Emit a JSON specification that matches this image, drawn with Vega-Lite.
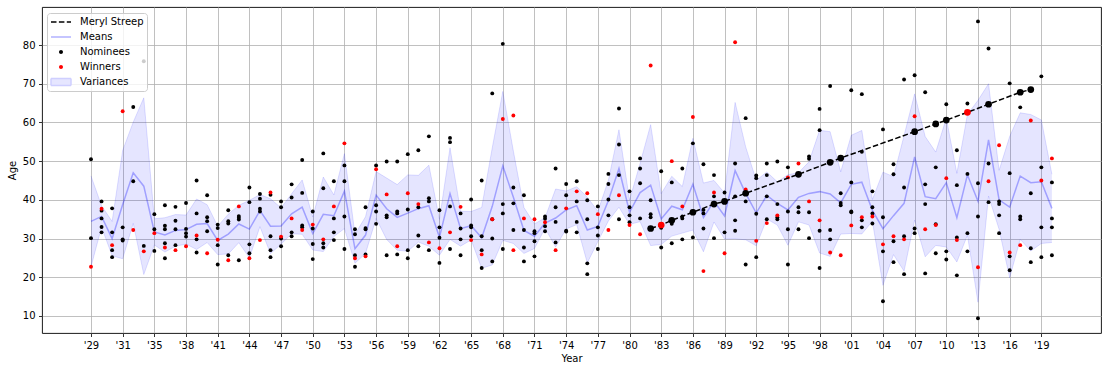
{
"$schema": "https://vega.github.io/schema/vega-lite/v6.json",
"width": 1059, "height": 326,
"autosize": {"type": "none"},
"padding": {"left": 42, "top": 7, "right": 7, "bottom": 38},
"background": "white",
"config": {
 "font": "DejaVu Sans",
 "view": {"stroke": "black", "strokeWidth": 0.9},
 "axis": {"labelFont": "DejaVu Sans", "labelFontSize": 10, "labelColor": "black", "titleFont": "DejaVu Sans", "titleFontSize": 10, "titleFontWeight": "normal", "titleColor": "black", "tickColor": "black", "tickSize": 3.5, "tickWidth": 0.8, "labelPadding": 3.5, "domain": false, "gridColor": "#b0b0b0", "gridWidth": 0.8, "gridOpacity": 1, "labelOverlap": false, "labelFlush": false},
 "legend": {"orient": "none", "legendX": 5, "legendY": 6, "symbolSize": 400, "clipHeight": 12, "rowPadding": 3, "padding": 3, "labelOffset": 8, "labelFont": "DejaVu Sans", "labelFontSize": 10, "labelColor": "black", "fillColor": "rgba(255,255,255,0.8)", "strokeColor": "#cccccc", "cornerRadius": 3, "zindex": 1, "symbolOpacity": 1, "symbolStrokeWidth": 1.5}
},
"data": {"values": [
{"idx":0,"age":50.5,"type":"Nominees"},{"idx":0,"age":30.1,"type":"Nominees"},{"idx":0,"age":22.7,"type":"Winners"},
{"idx":1,"age":39.6,"type":"Nominees"},{"idx":1,"age":37.2,"type":"Nominees"},{"idx":1,"age":35.2,"type":"Nominees"},{"idx":1,"age":33.0,"type":"Nominees"},{"idx":1,"age":31.6,"type":"Nominees"},{"idx":1,"age":37.7,"type":"Winners"},
{"idx":2,"age":37.8,"type":"Nominees"},{"idx":2,"age":31.6,"type":"Nominees"},{"idx":2,"age":27.0,"type":"Nominees"},{"idx":2,"age":25.2,"type":"Nominees"},{"idx":2,"age":28.3,"type":"Winners"},
{"idx":3,"age":32.9,"type":"Nominees"},{"idx":3,"age":29.8,"type":"Nominees"},{"idx":3,"age":29.5,"type":"Nominees"},{"idx":3,"age":62.9,"type":"Winners"},
{"idx":4,"age":64.0,"type":"Nominees"},{"idx":4,"age":44.8,"type":"Nominees"},{"idx":4,"age":32.2,"type":"Winners"},
{"idx":5,"age":75.8,"type":"Nominees"},{"idx":5,"age":28.1,"type":"Nominees"},{"idx":5,"age":26.7,"type":"Winners"},
{"idx":6,"age":36.3,"type":"Nominees"},{"idx":6,"age":32.4,"type":"Nominees"},{"idx":6,"age":26.8,"type":"Nominees"},{"idx":6,"age":31.4,"type":"Winners"},
{"idx":7,"age":38.6,"type":"Nominees"},{"idx":7,"age":33.3,"type":"Nominees"},{"idx":7,"age":32.4,"type":"Nominees"},{"idx":7,"age":28.8,"type":"Nominees"},{"idx":7,"age":24.9,"type":"Nominees"},{"idx":7,"age":27.7,"type":"Winners"},
{"idx":8,"age":38.2,"type":"Nominees"},{"idx":8,"age":34.6,"type":"Nominees"},{"idx":8,"age":32.4,"type":"Nominees"},{"idx":8,"age":28.3,"type":"Nominees"},{"idx":8,"age":27.0,"type":"Winners"},
{"idx":9,"age":39.2,"type":"Nominees"},{"idx":9,"age":32.5,"type":"Nominees"},{"idx":9,"age":31.4,"type":"Nominees"},{"idx":9,"age":30.5,"type":"Nominees"},{"idx":9,"age":28.0,"type":"Winners"},
{"idx":10,"age":45.0,"type":"Nominees"},{"idx":10,"age":36.5,"type":"Nominees"},{"idx":10,"age":29.8,"type":"Nominees"},{"idx":10,"age":26.4,"type":"Nominees"},{"idx":10,"age":30.8,"type":"Winners"},
{"idx":11,"age":41.2,"type":"Nominees"},{"idx":11,"age":35.5,"type":"Nominees"},{"idx":11,"age":34.5,"type":"Nominees"},{"idx":11,"age":31.9,"type":"Nominees"},{"idx":11,"age":26.2,"type":"Winners"},
{"idx":12,"age":33.6,"type":"Nominees"},{"idx":12,"age":32.7,"type":"Nominees"},{"idx":12,"age":28.3,"type":"Nominees"},{"idx":12,"age":23.3,"type":"Nominees"},{"idx":12,"age":29.7,"type":"Winners"},
{"idx":13,"age":37.3,"type":"Nominees"},{"idx":13,"age":34.5,"type":"Nominees"},{"idx":13,"age":33.9,"type":"Nominees"},{"idx":13,"age":25.7,"type":"Nominees"},{"idx":13,"age":24.4,"type":"Winners"},
{"idx":14,"age":35.8,"type":"Nominees"},{"idx":14,"age":35.4,"type":"Nominees"},{"idx":14,"age":34.9,"type":"Nominees"},{"idx":14,"age":24.4,"type":"Nominees"},{"idx":14,"age":38.3,"type":"Winners"},
{"idx":15,"age":43.2,"type":"Nominees"},{"idx":15,"age":39.4,"type":"Nominees"},{"idx":15,"age":28.5,"type":"Nominees"},{"idx":15,"age":26.2,"type":"Nominees"},{"idx":15,"age":24.9,"type":"Winners"},
{"idx":16,"age":41.5,"type":"Nominees"},{"idx":16,"age":40.3,"type":"Nominees"},{"idx":16,"age":37.7,"type":"Nominees"},{"idx":16,"age":37.0,"type":"Nominees"},{"idx":16,"age":29.6,"type":"Winners"},
{"idx":17,"age":41.3,"type":"Nominees"},{"idx":17,"age":30.6,"type":"Nominees"},{"idx":17,"age":27.0,"type":"Nominees"},{"idx":17,"age":25.2,"type":"Nominees"},{"idx":17,"age":41.9,"type":"Winners"},
{"idx":18,"age":39.6,"type":"Nominees"},{"idx":18,"age":38.1,"type":"Nominees"},{"idx":18,"age":30.0,"type":"Nominees"},{"idx":18,"age":28.0,"type":"Nominees"},{"idx":18,"age":30.5,"type":"Winners"},
{"idx":19,"age":44.0,"type":"Nominees"},{"idx":19,"age":40.6,"type":"Nominees"},{"idx":19,"age":31.6,"type":"Nominees"},{"idx":19,"age":30.6,"type":"Nominees"},{"idx":19,"age":35.2,"type":"Winners"},
{"idx":20,"age":50.3,"type":"Nominees"},{"idx":20,"age":41.8,"type":"Nominees"},{"idx":20,"age":33.4,"type":"Nominees"},{"idx":20,"age":32.9,"type":"Nominees"},{"idx":20,"age":32.2,"type":"Winners"},
{"idx":21,"age":37.0,"type":"Nominees"},{"idx":21,"age":32.6,"type":"Nominees"},{"idx":21,"age":28.6,"type":"Nominees"},{"idx":21,"age":24.7,"type":"Nominees"},{"idx":21,"age":33.6,"type":"Winners"},
{"idx":22,"age":52.0,"type":"Nominees"},{"idx":22,"age":43.0,"type":"Nominees"},{"idx":22,"age":28.8,"type":"Nominees"},{"idx":22,"age":27.7,"type":"Nominees"},{"idx":22,"age":29.8,"type":"Winners"},
{"idx":23,"age":44.8,"type":"Nominees"},{"idx":23,"age":35.2,"type":"Nominees"},{"idx":23,"age":31.6,"type":"Nominees"},{"idx":23,"age":29.6,"type":"Nominees"},{"idx":23,"age":38.3,"type":"Winners"},
{"idx":24,"age":48.9,"type":"Nominees"},{"idx":24,"age":44.8,"type":"Nominees"},{"idx":24,"age":35.7,"type":"Nominees"},{"idx":24,"age":27.3,"type":"Nominees"},{"idx":24,"age":54.6,"type":"Winners"},
{"idx":25,"age":32.4,"type":"Nominees"},{"idx":25,"age":31.1,"type":"Nominees"},{"idx":25,"age":25.7,"type":"Nominees"},{"idx":25,"age":22.7,"type":"Nominees"},{"idx":25,"age":24.9,"type":"Winners"},
{"idx":26,"age":38.1,"type":"Nominees"},{"idx":26,"age":32.7,"type":"Nominees"},{"idx":26,"age":32.4,"type":"Nominees"},{"idx":26,"age":25.9,"type":"Nominees"},{"idx":26,"age":25.4,"type":"Winners"},
{"idx":27,"age":48.9,"type":"Nominees"},{"idx":27,"age":38.6,"type":"Nominees"},{"idx":27,"age":37.0,"type":"Nominees"},{"idx":27,"age":33.8,"type":"Nominees"},{"idx":27,"age":47.9,"type":"Winners"},
{"idx":28,"age":49.9,"type":"Nominees"},{"idx":28,"age":36.0,"type":"Nominees"},{"idx":28,"age":35.5,"type":"Nominees"},{"idx":28,"age":25.7,"type":"Nominees"},{"idx":28,"age":41.4,"type":"Winners"},
{"idx":29,"age":49.9,"type":"Nominees"},{"idx":29,"age":37.0,"type":"Nominees"},{"idx":29,"age":36.5,"type":"Nominees"},{"idx":29,"age":25.9,"type":"Nominees"},{"idx":29,"age":28.0,"type":"Winners"},
{"idx":30,"age":51.8,"type":"Nominees"},{"idx":30,"age":37.5,"type":"Nominees"},{"idx":30,"age":27.0,"type":"Nominees"},{"idx":30,"age":24.9,"type":"Nominees"},{"idx":30,"age":41.7,"type":"Winners"},
{"idx":31,"age":52.8,"type":"Nominees"},{"idx":31,"age":38.1,"type":"Nominees"},{"idx":31,"age":30.8,"type":"Nominees"},{"idx":31,"age":28.0,"type":"Nominees"},{"idx":31,"age":38.9,"type":"Winners"},
{"idx":32,"age":56.4,"type":"Nominees"},{"idx":32,"age":40.4,"type":"Nominees"},{"idx":32,"age":39.6,"type":"Nominees"},{"idx":32,"age":27.0,"type":"Nominees"},{"idx":32,"age":29.0,"type":"Winners"},
{"idx":33,"age":37.3,"type":"Nominees"},{"idx":33,"age":32.9,"type":"Nominees"},{"idx":33,"age":30.2,"type":"Nominees"},{"idx":33,"age":23.7,"type":"Nominees"},{"idx":33,"age":27.5,"type":"Winners"},
{"idx":34,"age":56.0,"type":"Nominees"},{"idx":34,"age":54.9,"type":"Nominees"},{"idx":34,"age":38.3,"type":"Nominees"},{"idx":34,"age":27.3,"type":"Nominees"},{"idx":34,"age":31.6,"type":"Winners"},
{"idx":35,"age":36.5,"type":"Nominees"},{"idx":35,"age":32.6,"type":"Nominees"},{"idx":35,"age":29.8,"type":"Nominees"},{"idx":35,"age":25.7,"type":"Nominees"},{"idx":35,"age":38.2,"type":"Winners"},
{"idx":36,"age":40.1,"type":"Nominees"},{"idx":36,"age":33.4,"type":"Nominees"},{"idx":36,"age":32.9,"type":"Nominees"},{"idx":36,"age":30.6,"type":"Nominees"},{"idx":36,"age":29.6,"type":"Winners"},
{"idx":37,"age":45.0,"type":"Nominees"},{"idx":37,"age":30.6,"type":"Nominees"},{"idx":37,"age":27.0,"type":"Nominees"},{"idx":37,"age":22.4,"type":"Nominees"},{"idx":37,"age":25.9,"type":"Winners"},
{"idx":38,"age":67.5,"type":"Nominees"},{"idx":38,"age":35.0,"type":"Nominees"},{"idx":38,"age":30.0,"type":"Nominees"},{"idx":38,"age":24.1,"type":"Nominees"},{"idx":38,"age":35.0,"type":"Winners"},
{"idx":39,"age":80.3,"type":"Nominees"},{"idx":39,"age":38.9,"type":"Nominees"},{"idx":39,"age":36.5,"type":"Nominees"},{"idx":39,"age":27.3,"type":"Nominees"},{"idx":39,"age":60.9,"type":"Winners"},
{"idx":40,"age":43.2,"type":"Nominees"},{"idx":40,"age":39.1,"type":"Nominees"},{"idx":40,"age":32.2,"type":"Nominees"},{"idx":40,"age":61.8,"type":"Winners"},{"idx":40,"age":27.0,"type":"Winners"},
{"idx":41,"age":41.2,"type":"Nominees"},{"idx":41,"age":32.2,"type":"Nominees"},{"idx":41,"age":27.7,"type":"Nominees"},{"idx":41,"age":24.1,"type":"Nominees"},{"idx":41,"age":35.2,"type":"Winners"},
{"idx":42,"age":31.9,"type":"Nominees"},{"idx":42,"age":31.4,"type":"Nominees"},{"idx":42,"age":29.3,"type":"Nominees"},{"idx":42,"age":25.4,"type":"Nominees"},{"idx":42,"age":35.0,"type":"Winners"},
{"idx":43,"age":35.7,"type":"Nominees"},{"idx":43,"age":35.1,"type":"Nominees"},{"idx":43,"age":33.2,"type":"Nominees"},{"idx":43,"age":31.9,"type":"Nominees"},{"idx":43,"age":34.2,"type":"Winners"},
{"idx":44,"age":48.1,"type":"Nominees"},{"idx":44,"age":38.1,"type":"Nominees"},{"idx":44,"age":34.3,"type":"Nominees"},{"idx":44,"age":29.0,"type":"Nominees"},{"idx":44,"age":27.0,"type":"Winners"},
{"idx":45,"age":44.1,"type":"Nominees"},{"idx":45,"age":41.2,"type":"Nominees"},{"idx":45,"age":32.0,"type":"Nominees"},{"idx":45,"age":31.8,"type":"Nominees"},{"idx":45,"age":37.8,"type":"Winners"},
{"idx":46,"age":44.8,"type":"Nominees"},{"idx":46,"age":39.6,"type":"Nominees"},{"idx":46,"age":34.3,"type":"Nominees"},{"idx":46,"age":31.6,"type":"Nominees"},{"idx":46,"age":42.2,"type":"Winners"},
{"idx":47,"age":39.9,"type":"Nominees"},{"idx":47,"age":35.0,"type":"Nominees"},{"idx":47,"age":23.6,"type":"Nominees"},{"idx":47,"age":20.8,"type":"Nominees"},{"idx":47,"age":41.7,"type":"Winners"},
{"idx":48,"age":38.3,"type":"Nominees"},{"idx":48,"age":32.9,"type":"Nominees"},{"idx":48,"age":30.8,"type":"Nominees"},{"idx":48,"age":27.3,"type":"Nominees"},{"idx":48,"age":36.3,"type":"Winners"},
{"idx":49,"age":46.7,"type":"Nominees"},{"idx":49,"age":44.1,"type":"Nominees"},{"idx":49,"age":40.1,"type":"Nominees"},{"idx":49,"age":36.0,"type":"Nominees"},{"idx":49,"age":32.2,"type":"Winners"},
{"idx":50,"age":63.6,"type":"Nominees"},{"idx":50,"age":54.3,"type":"Nominees"},{"idx":50,"age":46.4,"type":"Nominees"},{"idx":50,"age":35.0,"type":"Nominees"},{"idx":50,"age":41.2,"type":"Winners"},
{"idx":51,"age":42.2,"type":"Nominees"},{"idx":51,"age":38.1,"type":"Nominees"},{"idx":51,"age":36.0,"type":"Nominees"},{"idx":51,"age":34.2,"type":"Nominees"},{"idx":51,"age":33.5,"type":"Winners"},
{"idx":52,"age":50.7,"type":"Nominees"},{"idx":52,"age":48.1,"type":"Nominees"},{"idx":52,"age":44.3,"type":"Nominees"},{"idx":52,"age":35.2,"type":"Nominees"},{"idx":52,"age":31.1,"type":"Winners"},
{"idx":53,"age":39.9,"type":"Nominees"},{"idx":53,"age":36.3,"type":"Nominees"},{"idx":53,"age":35.5,"type":"Nominees"},{"idx":53,"age":32.6,"type":"Nominees","meryl":true},{"idx":53,"age":74.7,"type":"Winners"},
{"idx":54,"age":47.4,"type":"Nominees"},{"idx":54,"age":33.8,"type":"Nominees"},{"idx":54,"age":32.8,"type":"Nominees"},{"idx":54,"age":27.7,"type":"Nominees"},{"idx":54,"age":33.5,"type":"Winners","meryl":true},
{"idx":55,"age":44.5,"type":"Nominees"},{"idx":55,"age":33.8,"type":"Nominees"},{"idx":55,"age":28.8,"type":"Nominees"},{"idx":55,"age":34.7,"type":"Nominees","meryl":true},{"idx":55,"age":50.0,"type":"Winners"},
{"idx":56,"age":48.1,"type":"Nominees"},{"idx":56,"age":35.7,"type":"Nominees"},{"idx":56,"age":35.2,"type":"Nominees"},{"idx":56,"age":29.8,"type":"Nominees"},{"idx":56,"age":38.3,"type":"Winners"},
{"idx":57,"age":54.6,"type":"Nominees"},{"idx":57,"age":37.1,"type":"Nominees"},{"idx":57,"age":30.3,"type":"Nominees"},{"idx":57,"age":36.8,"type":"Nominees","meryl":true},{"idx":57,"age":61.4,"type":"Winners"},
{"idx":58,"age":49.2,"type":"Nominees"},{"idx":58,"age":37.4,"type":"Nominees"},{"idx":58,"age":36.5,"type":"Nominees"},{"idx":58,"age":32.6,"type":"Nominees"},{"idx":58,"age":21.6,"type":"Winners"},
{"idx":59,"age":46.4,"type":"Nominees"},{"idx":59,"age":40.9,"type":"Nominees"},{"idx":59,"age":30.1,"type":"Nominees"},{"idx":59,"age":38.9,"type":"Nominees","meryl":true},{"idx":59,"age":41.9,"type":"Winners"},
{"idx":60,"age":41.9,"type":"Nominees"},{"idx":60,"age":39.8,"type":"Nominees"},{"idx":60,"age":31.6,"type":"Nominees"},{"idx":60,"age":39.6,"type":"Nominees","meryl":true},{"idx":60,"age":26.2,"type":"Winners"},
{"idx":61,"age":49.4,"type":"Nominees"},{"idx":61,"age":40.9,"type":"Nominees"},{"idx":61,"age":34.7,"type":"Nominees"},{"idx":61,"age":32.0,"type":"Nominees"},{"idx":61,"age":80.7,"type":"Winners"},
{"idx":62,"age":61.1,"type":"Nominees"},{"idx":62,"age":39.6,"type":"Nominees"},{"idx":62,"age":23.3,"type":"Nominees"},{"idx":62,"age":41.7,"type":"Nominees","meryl":true},{"idx":62,"age":42.7,"type":"Winners"},
{"idx":63,"age":46.3,"type":"Nominees"},{"idx":63,"age":45.6,"type":"Nominees"},{"idx":63,"age":36.4,"type":"Nominees"},{"idx":63,"age":25.2,"type":"Nominees"},{"idx":63,"age":29.4,"type":"Winners"},
{"idx":64,"age":49.4,"type":"Nominees"},{"idx":64,"age":46.4,"type":"Nominees"},{"idx":64,"age":40.9,"type":"Nominees"},{"idx":64,"age":35.0,"type":"Nominees"},{"idx":64,"age":34.0,"type":"Winners"},
{"idx":65,"age":49.9,"type":"Nominees"},{"idx":65,"age":38.9,"type":"Nominees"},{"idx":65,"age":35.5,"type":"Nominees"},{"idx":65,"age":35.0,"type":"Nominees"},{"idx":65,"age":36.0,"type":"Winners"},
{"idx":66,"age":48.4,"type":"Nominees"},{"idx":66,"age":37.0,"type":"Nominees"},{"idx":66,"age":32.4,"type":"Nominees"},{"idx":66,"age":23.3,"type":"Nominees"},{"idx":66,"age":45.8,"type":"Winners"},
{"idx":67,"age":38.1,"type":"Nominees"},{"idx":67,"age":36.8,"type":"Nominees"},{"idx":67,"age":32.4,"type":"Nominees"},{"idx":67,"age":46.6,"type":"Nominees","meryl":true},{"idx":67,"age":49.4,"type":"Winners"},
{"idx":68,"age":51.2,"type":"Nominees"},{"idx":68,"age":50.6,"type":"Nominees"},{"idx":68,"age":36.8,"type":"Nominees"},{"idx":68,"age":30.1,"type":"Nominees"},{"idx":68,"age":39.6,"type":"Winners"},
{"idx":69,"age":63.5,"type":"Nominees"},{"idx":69,"age":58.0,"type":"Nominees"},{"idx":69,"age":32.0,"type":"Nominees"},{"idx":69,"age":22.4,"type":"Nominees"},{"idx":69,"age":34.7,"type":"Winners"},
{"idx":70,"age":69.4,"type":"Nominees"},{"idx":70,"age":32.2,"type":"Nominees"},{"idx":70,"age":29.8,"type":"Nominees"},{"idx":70,"age":49.7,"type":"Nominees","meryl":true},{"idx":70,"age":26.4,"type":"Winners"},
{"idx":71,"age":41.7,"type":"Nominees"},{"idx":71,"age":39.2,"type":"Nominees"},{"idx":71,"age":38.6,"type":"Nominees"},{"idx":71,"age":50.8,"type":"Nominees","meryl":true},{"idx":71,"age":25.7,"type":"Winners"},
{"idx":72,"age":68.3,"type":"Nominees"},{"idx":72,"age":44.5,"type":"Nominees"},{"idx":72,"age":37.0,"type":"Nominees"},{"idx":72,"age":36.8,"type":"Nominees"},{"idx":72,"age":33.4,"type":"Winners"},
{"idx":73,"age":67.3,"type":"Nominees"},{"idx":73,"age":52.4,"type":"Nominees"},{"idx":73,"age":34.7,"type":"Nominees"},{"idx":73,"age":32.9,"type":"Nominees"},{"idx":73,"age":35.5,"type":"Winners"},
{"idx":74,"age":42.2,"type":"Nominees"},{"idx":74,"age":38.1,"type":"Nominees"},{"idx":74,"age":36.5,"type":"Nominees"},{"idx":74,"age":33.9,"type":"Nominees"},{"idx":74,"age":35.7,"type":"Winners"},
{"idx":75,"age":58.2,"type":"Nominees"},{"idx":75,"age":35.5,"type":"Nominees"},{"idx":75,"age":26.7,"type":"Nominees"},{"idx":75,"age":13.8,"type":"Nominees"},{"idx":75,"age":28.5,"type":"Winners"},
{"idx":76,"age":49.2,"type":"Nominees"},{"idx":76,"age":46.6,"type":"Nominees"},{"idx":76,"age":29.3,"type":"Nominees"},{"idx":76,"age":23.9,"type":"Nominees"},{"idx":76,"age":30.6,"type":"Winners"},
{"idx":77,"age":71.1,"type":"Nominees"},{"idx":77,"age":43.2,"type":"Nominees"},{"idx":77,"age":30.6,"type":"Nominees"},{"idx":77,"age":20.8,"type":"Nominees"},{"idx":77,"age":29.8,"type":"Winners"},
{"idx":78,"age":72.2,"type":"Nominees"},{"idx":78,"age":32.6,"type":"Nominees"},{"idx":78,"age":31.4,"type":"Nominees"},{"idx":78,"age":57.6,"type":"Nominees","meryl":true},{"idx":78,"age":61.6,"type":"Winners"},
{"idx":79,"age":67.8,"type":"Nominees"},{"idx":79,"age":44.0,"type":"Nominees"},{"idx":79,"age":38.9,"type":"Nominees"},{"idx":79,"age":21.0,"type":"Nominees"},{"idx":79,"age":32.4,"type":"Winners"},
{"idx":80,"age":48.4,"type":"Nominees"},{"idx":80,"age":33.7,"type":"Nominees"},{"idx":80,"age":26.2,"type":"Nominees"},{"idx":80,"age":59.6,"type":"Nominees","meryl":true},{"idx":80,"age":33.5,"type":"Winners"},
{"idx":81,"age":64.7,"type":"Nominees"},{"idx":81,"age":26.7,"type":"Nominees"},{"idx":81,"age":24.6,"type":"Nominees"},{"idx":81,"age":60.6,"type":"Nominees","meryl":true},{"idx":81,"age":45.6,"type":"Winners"},
{"idx":82,"age":52.8,"type":"Nominees"},{"idx":82,"age":43.8,"type":"Nominees"},{"idx":82,"age":30.3,"type":"Nominees"},{"idx":82,"age":20.5,"type":"Nominees"},{"idx":82,"age":29.6,"type":"Winners"},
{"idx":83,"age":64.9,"type":"Nominees"},{"idx":83,"age":46.7,"type":"Nominees"},{"idx":83,"age":31.4,"type":"Nominees"},{"idx":83,"age":26.7,"type":"Nominees"},{"idx":83,"age":62.6,"type":"Winners","meryl":true},
{"idx":84,"age":86.1,"type":"Nominees"},{"idx":84,"age":44.3,"type":"Nominees"},{"idx":84,"age":35.7,"type":"Nominees"},{"idx":84,"age":9.4,"type":"Nominees"},{"idx":84,"age":22.6,"type":"Winners"},
{"idx":85,"age":79.1,"type":"Nominees"},{"idx":85,"age":49.4,"type":"Nominees"},{"idx":85,"age":39.4,"type":"Nominees"},{"idx":85,"age":64.7,"type":"Nominees","meryl":true},{"idx":85,"age":44.8,"type":"Winners"},
{"idx":86,"age":39.6,"type":"Nominees"},{"idx":86,"age":38.9,"type":"Nominees"},{"idx":86,"age":36.0,"type":"Nominees"},{"idx":86,"age":31.4,"type":"Nominees"},{"idx":86,"age":54.1,"type":"Winners"},
{"idx":87,"age":70.1,"type":"Nominees"},{"idx":87,"age":46.9,"type":"Nominees"},{"idx":87,"age":25.4,"type":"Nominees"},{"idx":87,"age":21.8,"type":"Nominees"},{"idx":87,"age":26.4,"type":"Winners"},
{"idx":88,"age":63.9,"type":"Nominees"},{"idx":88,"age":35.7,"type":"Nominees"},{"idx":88,"age":35.0,"type":"Nominees"},{"idx":88,"age":67.8,"type":"Nominees","meryl":true},{"idx":88,"age":28.3,"type":"Winners"},
{"idx":89,"age":41.7,"type":"Nominees"},{"idx":89,"age":27.5,"type":"Nominees"},{"idx":89,"age":23.9,"type":"Nominees"},{"idx":89,"age":68.5,"type":"Nominees","meryl":true},{"idx":89,"age":60.5,"type":"Winners"},
{"idx":90,"age":71.9,"type":"Nominees"},{"idx":90,"age":48.4,"type":"Nominees"},{"idx":90,"age":32.9,"type":"Nominees"},{"idx":90,"age":25.2,"type":"Nominees"},{"idx":90,"age":45.0,"type":"Winners"},
{"idx":91,"age":44.5,"type":"Nominees"},{"idx":91,"age":35.2,"type":"Nominees"},{"idx":91,"age":32.9,"type":"Nominees"},{"idx":91,"age":25.7,"type":"Nominees"},{"idx":91,"age":50.7,"type":"Winners"}
]},
"layer": [
 {
  "encoding": {
   "x": {"field": "idx", "type": "quantitative", "title": "Year", "scale": {"domain": [-4.64, 95.65], "nice": false, "zero": false},
     "axis": {"values": [0,3,6,9,12,15,18,21,24,27,30,33,36,39,42,45,48,51,54,57,60,63,66,69,72,75,78,81,84,87,90], "labelFlush": false, "labelOverlap": false, "titlePadding": 3,
       "labelExpr": "\"'\" + ['29','31','35','38','41','44','47','50','53','56','59','62','65','68','71','74','77','80','83','86','89','92','95','98','01','04','07','10','13','16','19'][round(datum.value/3)]"}}
  },
  "layer": [
   {
    "transform": [{"aggregate": [{"op": "mean", "field": "age", "as": "mean"}, {"op": "stdevp", "field": "age", "as": "sd"}], "groupby": ["idx"]}],
    "layer": [
     {"mark": {"type": "errorband", "color": "blue", "band": {"opacity": 0.1}, "borders": {"opacity": 0.12, "strokeWidth": 1}},
      "encoding": {
       "y": {"field": "mean", "type": "quantitative", "title": "Age", "scale": {"domain": [5.6, 89.82], "nice": false, "zero": false},
         "axis": {"values": [10,20,30,40,50,60,70,80], "titlePadding": 5}},
       "yError": {"field": "sd"}
      }},
     {"mark": {"type": "line", "color": "blue", "opacity": 0.3, "strokeWidth": 1.5},
      "encoding": {
       "y": {"field": "mean", "type": "quantitative", "title": "Age"}
      }}
    ]
   },
   {"mark": {"type": "circle", "size": 15, "opacity": 1},
    "encoding": {
     "y": {"field": "age", "type": "quantitative", "title": "Age"},
     "color": {"field": "type", "type": "nominal", "legend": null,
       "scale": {"domain": ["Nominees", "Winners"], "range": ["black", "red"]}}
    }},
   {"transform": [{"filter": {"field": "meryl", "equal": true}}],
    "mark": {"type": "line", "color": "black", "strokeDash": [5.5, 2.4], "strokeWidth": 1.5},
    "encoding": {
     "y": {"field": "age", "type": "quantitative", "title": "Age"}
    }},
   {"transform": [{"filter": {"field": "meryl", "equal": true}}],
    "mark": {"type": "circle", "size": 45, "opacity": 1},
    "encoding": {
     "y": {"field": "age", "type": "quantitative", "title": "Age"},
     "color": {"field": "type", "type": "nominal", "legend": null}
    }}
  ]
 },
 {
  "data": {"values": [{"entry": "Meryl Streep"}, {"entry": "Means"}, {"entry": "Nominees"}, {"entry": "Winners"}, {"entry": "Variances"}]},
  "mark": {"type": "point", "opacity": 0, "strokeWidth": 1.5},
  "encoding": {
   "fill": {"field": "entry", "type": "nominal", "title": null,
     "scale": {"domain": ["Meryl Streep", "Means", "Nominees", "Winners", "Variances"], "range": ["transparent", "transparent", "black", "red", "#e6e6ff"]},
     "legend": {"title": null, "orient": "none", "legendX": 5, "legendY": 6, "symbolOpacity": 1, "symbolStrokeWidth": 1.5, "zindex": 1}},
   "stroke": {"field": "entry", "type": "nominal", "title": null,
     "scale": {"domain": ["Meryl Streep", "Means", "Nominees", "Winners", "Variances"], "range": ["black", "#b3b3ff", "transparent", "transparent", "#cfcfff"]}},
   "shape": {"field": "entry", "type": "nominal", "title": null,
     "scale": {"domain": ["Meryl Streep", "Means", "Nominees", "Winners", "Variances"], "range": ["stroke", "stroke", "M-0.2,0A0.2,0.2,0,1,0,0.2,0A0.2,0.2,0,1,0,-0.2,0Z", "M-0.2,0A0.2,0.2,0,1,0,0.2,0A0.2,0.2,0,1,0,-0.2,0Z", "M-1,-0.35H1V0.35H-1Z"]}},
   "strokeDash": {"field": "entry", "type": "nominal", "title": null,
     "scale": {"domain": ["Meryl Streep", "Means", "Nominees", "Winners", "Variances"], "range": [[5.5, 2.4], [1, 0], [1, 0], [1, 0], [1, 0]]}}
  }
 }
]
}
